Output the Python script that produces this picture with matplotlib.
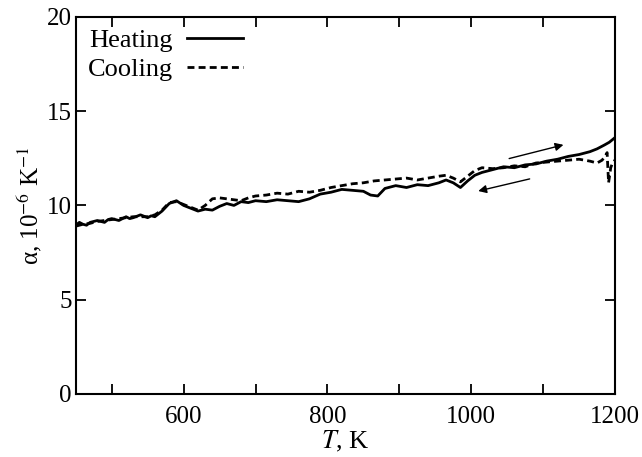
import matplotlib
matplotlib.use("Agg")
import matplotlib.pyplot as plt

# temperature (K) and thermal expansion coefficient (1e-6 1/K)
heat_T = [450, 455, 460, 465, 470, 480, 490, 495, 500, 510, 520, 525, 530, 540,
          550, 555, 560, 570, 580, 590, 600, 610, 620, 630, 640, 650, 660, 670,
          680, 690, 700, 715, 730, 745, 760, 775, 790, 805, 820, 835, 850, 860,
          870, 880, 895, 910, 925, 940, 955, 965, 975, 985, 995, 1005, 1015,
          1030, 1045, 1060, 1075, 1090, 1105, 1120, 1135, 1150, 1165, 1175, 1185,
          1192, 1200]
heat_a = [8.95, 9.1, 9.0, 8.95, 9.1, 9.2, 9.1, 9.25, 9.3, 9.2, 9.4, 9.3, 9.35,
          9.5, 9.35, 9.45, 9.4, 9.7, 10.1, 10.25, 10.0, 9.85, 9.7, 9.8, 9.75,
          9.95, 10.1, 10.0, 10.2, 10.15, 10.25, 10.2, 10.3, 10.25, 10.2, 10.35,
          10.6, 10.7, 10.85, 10.8, 10.75, 10.55, 10.5, 10.9, 11.05, 10.95, 11.1,
          11.05, 11.2, 11.35, 11.2, 10.95, 11.3, 11.6, 11.75, 11.9, 12.05, 12.0,
          12.15, 12.2, 12.35, 12.45, 12.6, 12.7, 12.85, 13.0, 13.2, 13.35, 13.6]

cool_T = [450, 460, 470, 480, 490, 500, 510, 520, 530, 540, 550, 560, 570, 580,
          590, 600, 610, 620, 630, 640, 650, 660, 670, 680, 690, 700, 715, 730,
          745, 760, 775, 790, 805, 820, 835, 850, 865, 880, 895, 910, 925, 940,
          955, 965, 975, 985, 995, 1005, 1015, 1030, 1045, 1060, 1075, 1090, 1105,
          1120, 1135, 1150, 1165, 1175, 1182, 1186, 1189, 1191, 1194, 1197, 1200]
cool_a = [8.9, 9.0, 9.05, 9.15, 9.2, 9.25, 9.3, 9.35, 9.4, 9.4, 9.4, 9.5, 9.75,
          10.15, 10.2, 10.05, 9.9, 9.75, 10.0, 10.35, 10.4, 10.35, 10.3, 10.25,
          10.4, 10.5, 10.55, 10.65, 10.6, 10.75, 10.7, 10.8, 10.95, 11.05, 11.15,
          11.2, 11.3, 11.35, 11.4, 11.45, 11.35, 11.45, 11.55, 11.6, 11.45, 11.25,
          11.55, 11.85, 12.0, 11.95, 12.0, 12.1, 12.05, 12.25, 12.3, 12.35, 12.4,
          12.45, 12.35, 12.25, 12.4, 12.6, 12.8, 11.2, 12.0, 12.3, 12.4]

x_ticks = [500, 600, 700, 800, 900, 1000, 1100, 1200]
x_labels = ["", "600", "", "800", "", "1000", "", "1200"]
y_ticks = [0, 5, 10, 15, 20]

plt.rcParams["font.family"] = ["Liberation Serif", "DejaVu Serif"]
plt.rcParams["mathtext.fontset"] = "stix"

fig = plt.figure(figsize=(6.42, 4.57), dpi=100)
ax = fig.add_axes([0.118, 0.138, 0.840, 0.825])

ax.plot(heat_T, heat_a, color="black", lw=2, label="Heating")
ax.plot(cool_T, cool_a, color="black", lw=2, dashes=(2.5, 1.5), label="Cooling")

# direction arrows
ax.annotate("", xy=(1132, 13.25), xytext=(1049, 12.45),
            arrowprops=dict(arrowstyle="-|>", lw=1, color="black", mutation_scale=12))
ax.annotate("", xy=(1006, 10.73), xytext=(1085, 11.44),
            arrowprops=dict(arrowstyle="-|>", lw=1, color="black", mutation_scale=12))

ax.set_xlim(450, 1200)
ax.set_ylim(0, 20)
ax.set_xticks(x_ticks)
ax.set_xticklabels(x_labels)
ax.set_yticks(y_ticks)
ax.tick_params(direction="in", top=True, right=True, length=7, width=1.3,
               labelsize=18)
ax.tick_params(axis="x", pad=9)
ax.tick_params(axis="y", pad=3)
for s in ax.spines.values():
    s.set_linewidth(1.5)

ax.set_xlabel("$T$, K", fontsize=19, labelpad=0)
ax.set_ylabel("α, 10$^{-6}$ K$^{-1}$", fontsize=18, labelpad=2)

ax.legend(loc="upper left", frameon=False, markerfirst=False, fontsize=19,
          handlelength=2.1, handletextpad=0.55, labelspacing=0.2,
          borderaxespad=0.25, borderpad=0.2)

fig.savefig("out.png", dpi=100)
